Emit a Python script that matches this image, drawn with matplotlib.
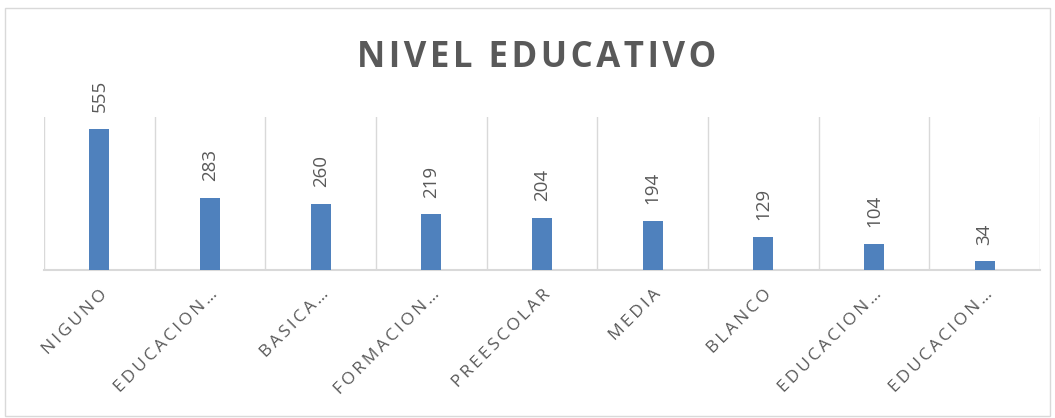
import matplotlib.pyplot as plt
from matplotlib.patches import Rectangle

plt.rcParams['font.family'] = ['Open Sans', 'DejaVu Sans']

# data
categorias = ["NIGUNO", "EDUCACION…", "BASICA…", "FORMACION…", "PREESCOLAR",
              "MEDIA", "BLANCO", "EDUCACION…", "EDUCACION…"]
valores = [555, 283, 260, 219, 204, 194, 129, 104, 34]

gris = "#595959"
azul = "#4F81BD"


def espaciar(texto, sep="\u200a"):
    # simulate letter spacing
    return sep.join(texto)


fig = plt.figure(figsize=(10.55, 4.18), dpi=100)
ax = fig.add_axes([0.0417, 0.354, 0.944, 0.366])

x = range(len(valores))
ax.bar(x, valores, width=0.18, color=azul, zorder=3)

for i, v in enumerate(valores):
    ax.annotate(str(v), (i, v), xytext=(0, 12), textcoords="offset points",
                rotation=90, ha="center", va="bottom", fontsize=13.5, color=gris)

# vertical grid between categories
for b in range(len(valores) + 1):
    ax.axvline(b - 0.5, color="#d9d9d9", lw=1, zorder=1)

ax.set_xlim(-0.5, len(valores) - 0.5)
ax.set_ylim(0, 600)
ax.set_yticks([])
ax.set_xticks(list(x))
ax.set_xticklabels([espaciar(c, "\u2009") for c in categorias], rotation=45,
                   ha="right", rotation_mode="anchor", fontsize=12.5, color=gris)
ax.tick_params(axis="x", length=0, pad=12)
for s in ["top", "left", "right"]:
    ax.spines[s].set_visible(False)
ax.spines["bottom"].set_color("#d9d9d9")
ax.spines["bottom"].set_linewidth(1.5)

fig.text(0.509, 0.862, espaciar("NIVEL EDUCATIVO", "\u200a"), ha="center",
         va="center", fontsize=25, fontweight="bold", color=gris)

# chart frame
fig.patches.append(Rectangle((0.005, 0.005), 0.99, 0.975, transform=fig.transFigure,
                             fill=False, edgecolor="#d9d9d9", lw=1))

fig.savefig("out.png", dpi=100)
